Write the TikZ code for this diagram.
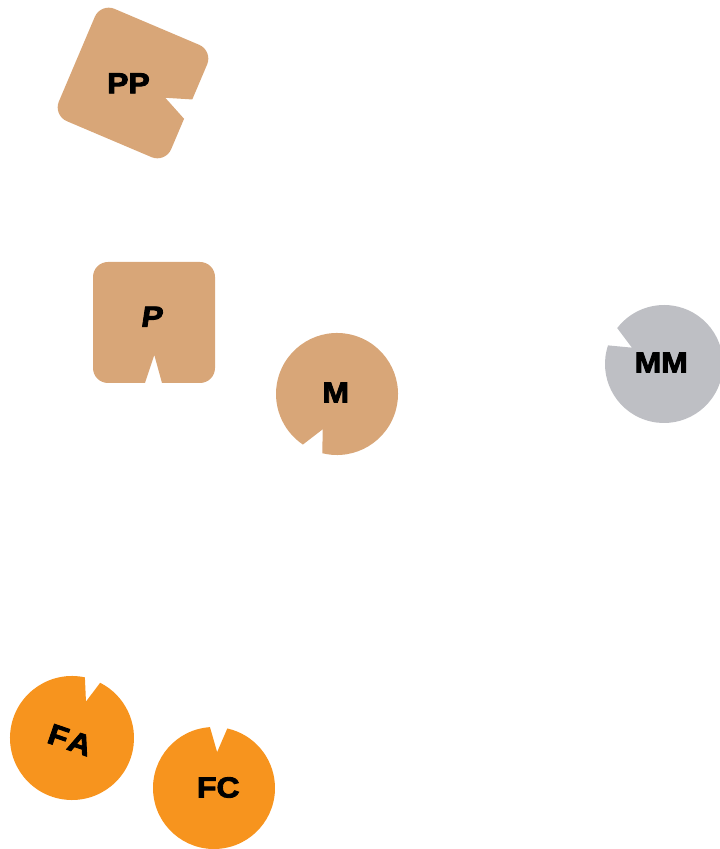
\documentclass[tikz,border=0pt]{standalone}
\usepackage{fontspec}
\newfontfamily\lblfont{Liberation Sans}[FakeStretch=1.1,FakeBold=3]
\definecolor{tanC}{RGB}{216,166,120}
\definecolor{grayC}{RGB}{190,191,196}
\definecolor{orangeC}{RGB}{247,148,30}
\tikzset{
  lbl/.style={font=\lblfont\bfseries\fontsize{29}{29}\selectfont, text=black, inner sep=0pt},
}
\begin{document}
\begin{tikzpicture}[x=1pt,y=1pt]
\useasboundingbox (0,0) rectangle (720,849);
% PP (rotated rounded square, notch on right)
\begin{scope}[shift={(133,766)},rotate=-23]
\fill[tanC] (61,8) -- (61,46) arc[start angle=0,end angle=90,radius=15]
  -- (-46,61) arc[start angle=90,end angle=180,radius=15]
  -- (-61,-46) arc[start angle=180,end angle=270,radius=15]
  -- (46,-61) arc[start angle=270,end angle=360,radius=15]
  -- (61,-13) -- (35.5,-1) -- cycle;
\end{scope}
\node[lbl] (pp) at (128.5,765.7) {PP};
% P (rounded square, notch at bottom)
\begin{scope}[shift={(154,526.5)}]
\fill[tanC] (8,-60.5) -- (46,-60.5) arc[start angle=270,end angle=360,radius=15]
  -- (61,45.5) arc[start angle=0,end angle=90,radius=15]
  -- (-46,60.5) arc[start angle=90,end angle=180,radius=15]
  -- (-61,-45.5) arc[start angle=180,end angle=270,radius=15]
  -- (-9,-60.5) -- (0.3,-32.5) -- cycle;
\end{scope}
\node[lbl,xslant=0.15] (p) at (152.5,532.3) {P};
% M
\begin{scope}[shift={(337,455)}]
\fill[tanC] (248:38) -- (256:61) arc[start angle=256,end angle=596,radius=61] -- cycle;
\end{scope}
\node[lbl] (m) at (335.8,456.5) {M};
% MM
\begin{scope}[shift={(664,485)}]
\fill[grayC] (153:36) -- (161.6:59) arc[start angle=161.6,end angle=502.5,radius=59] -- cycle;
\end{scope}
\node[lbl] (mm) at (661.2,486.5) {MM};
% FA
\begin{scope}[shift={(72,111)}]
\fill[orangeC] (69:39) -- (78:62) arc[start angle=78,end angle=423,radius=62] -- cycle;
\end{scope}
\node[lbl,rotate=-19] (fa) at (70,109) {F\kern1.5pt A};
% FC
\begin{scope}[shift={(214,61)}]
\fill[orangeC] (85:36) -- (93.8:61) arc[start angle=93.8,end angle=437.4,radius=61] -- cycle;
\end{scope}
\node[lbl] (fc) at (218.3,61.5) {FC};
\end{tikzpicture}
\end{document}
